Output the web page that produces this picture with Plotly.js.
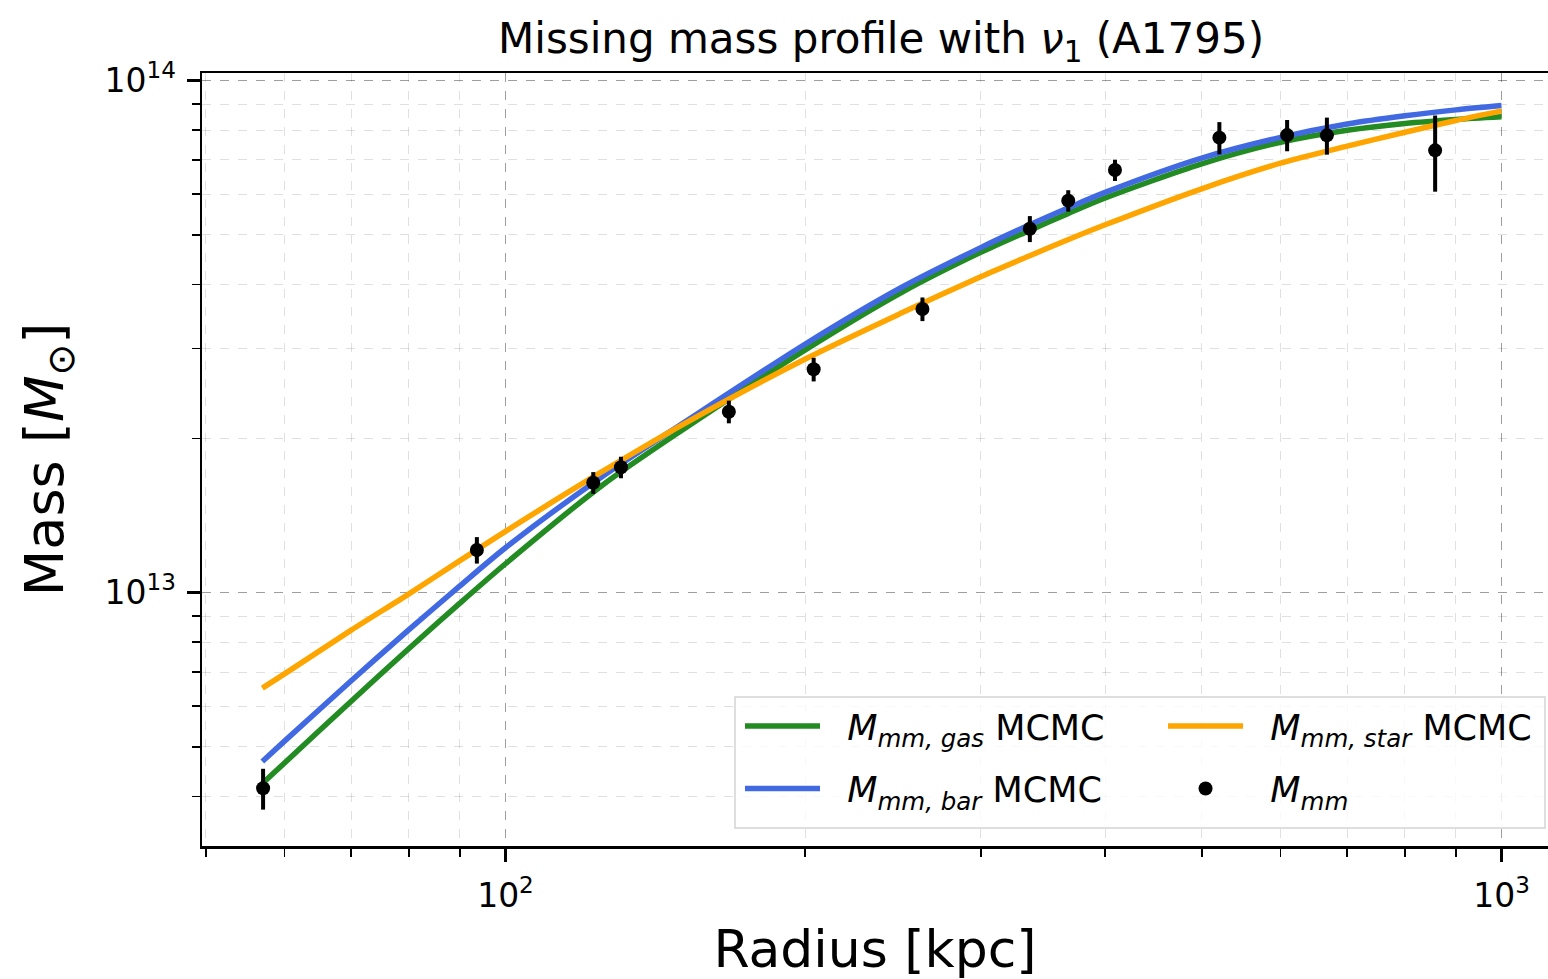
<!DOCTYPE html>
<html>
<head>
<meta charset="utf-8">
<script src="https://cdn.plot.ly/plotly-3.0.1.min.js"></script>
<style>html,body{margin:0;padding:0;overflow:hidden;background:#fff}</style>
</head>
<body>
<div id="chart" style="width:1548px;height:979px"></div>
<script>
// Model curves (MCMC fits), radius in kpc, mass in solar masses
const radius_fit = [57, 60, 70, 80, 90, 100, 125, 150, 200, 250, 300, 336, 367, 400, 500, 600, 700, 800, 900, 1000];
const M_mm_gas_mcmc = [0.424e13, 0.465e13, 0.614e13, 0.778e13, 0.954e13, 1.139e13, 1.62e13, 2.07e13, 2.98e13, 3.86e13, 4.62e13, 5.10e13, 5.50e13, 5.90e13, 6.88e13, 7.58e13, 8.00e13, 8.25e13, 8.40e13, 8.50e13];
const M_mm_bar_mcmc = [0.468e13, 0.513e13, 0.673e13, 0.847e13, 1.031e13, 1.224e13, 1.685e13, 2.13e13, 3.06e13, 3.95e13, 4.72e13, 5.23e13, 5.64e13, 6.05e13, 7.06e13, 7.75e13, 8.23e13, 8.54e13, 8.77e13, 8.94e13];
const M_mm_star_mcmc = [0.651e13, 0.694e13, 0.845e13, 0.995e13, 1.155e13, 1.318e13, 1.723e13, 2.12e13, 2.86e13, 3.52e13, 4.14e13, 4.55e13, 4.89e13, 5.23e13, 6.15e13, 6.90e13, 7.45e13, 7.93e13, 8.36e13, 8.73e13];

// Observed missing mass with errors
const radius_obs = [57.1, 93.6, 122.5, 130.6, 167.6, 203.9, 262.2, 336.1, 367.3, 409.2, 520.9, 609.2, 667.9, 857.8];
const M_mm = [0.415e13, 1.212e13, 1.640e13, 1.758e13, 2.257e13, 2.731e13, 3.582e13, 5.139e13, 5.83e13, 6.69e13, 7.74e13, 7.83e13, 7.82e13, 7.31e13];
const M_mm_err = [0.038e13, 0.072e13, 0.080e13, 0.085e13, 0.115e13, 0.145e13, 0.19e13, 0.30e13, 0.28e13, 0.32e13, 0.56e13, 0.55e13, 0.65e13, 1.24e13];

// Axis ticks
const x_major = [100, 1000];
const x_major_text = ['10<sup>2</sup>', '10<sup>3</sup>'];
const x_minor = [50, 60, 70, 80, 90, 200, 300, 400, 500, 600, 700, 800, 900];
const y_major = [1e13, 1e14];
const y_major_text = ['10<sup>13</sup>', '10<sup>14</sup>'];
const y_minor = [4e12, 5e12, 6e12, 7e12, 8e12, 9e12, 2e13, 3e13, 4e13, 5e13, 6e13, 7e13, 8e13, 9e13];

const FONT = 'DejaVu Sans, Liberation Sans, sans-serif';
const LW = 5.5;
const GAP = '\u00A0\u00A0';

const traces = [
  {x: radius_fit, y: M_mm_gas_mcmc, type: 'scatter', mode: 'lines', name: GAP + '<i>M<sub>mm, gas</sub></i> MCMC',
   line: {color: '#228B22', width: LW, shape: 'spline', smoothing: 0.8}, legend: 'legend', legendgroup: 'a'},
  {x: radius_fit, y: M_mm_bar_mcmc, type: 'scatter', mode: 'lines', name: GAP + '<i>M<sub>mm, bar</sub></i> MCMC',
   line: {color: '#4169E1', width: LW, shape: 'spline', smoothing: 0.8}, legend: 'legend', legendgroup: 'b'},
  {x: radius_fit, y: M_mm_star_mcmc, type: 'scatter', mode: 'lines', name: GAP + '<i>M<sub>mm, star</sub></i> MCMC',
   line: {color: '#FFA500', width: LW, shape: 'spline', smoothing: 0.8}, legend: 'legend2', legendgroup: 'c'},
  {x: radius_obs, y: M_mm, type: 'scatter', mode: 'markers', name: GAP + '<i>M<sub>mm</sub></i>',
   marker: {color: 'black', size: 14},
   error_y: {type: 'data', array: M_mm_err, visible: true, color: 'black', thickness: 4, width: 0},
   legend: 'legend2', legendgroup: 'd'}
];

const gridMajor = 'rgba(0,0,0,0.38)';
const gridMinor = 'rgba(0,0,0,0.12)';

const layout = {
  width: 1548, height: 979,
  margin: {l: 202, r: 0, t: 73, b: 133},
  paper_bgcolor: 'white', plot_bgcolor: 'white',
  font: {family: FONT, color: 'black'},
  showlegend: true,
  title: {text: 'Missing mass profile with <i>ν</i><sub>1</sub> (A1795)', font: {size: 42, family: FONT},
          x: 0.5045, xref: 'paper', xanchor: 'center', y: 0.961, yref: 'container', yanchor: 'middle'},
  xaxis: {
    type: 'log', range: [1.6953, 3.0467],
    tickmode: 'array', tickvals: x_major, ticktext: x_major_text,
    ticks: 'outside', ticklen: 13, tickwidth: 2.5, tickcolor: 'black',
    tickfont: {size: 33, family: FONT}, ticklabelstandoff: 6,
    showline: true, linecolor: 'black', linewidth: 2.5, mirror: true,
    showgrid: true, gridcolor: gridMajor, gridwidth: 1, griddash: 'dash',
    zeroline: false,
    minor: {tickmode: 'array', tickvals: x_minor, ticks: 'outside', ticklen: 8, tickwidth: 1.8, tickcolor: 'black',
            showgrid: true, gridcolor: gridMinor, gridwidth: 1, griddash: 'dash'},
    title: {text: 'Radius [kpc]', font: {size: 52, family: FONT}, standoff: 18}
  },
  yaxis: {
    type: 'log', range: [12.5053, 14.015],
    tickmode: 'array', tickvals: y_major, ticktext: y_major_text,
    ticks: 'outside', ticklen: 13, tickwidth: 2.5, tickcolor: 'black',
    tickfont: {size: 33, family: FONT}, ticklabelstandoff: 4,
    showline: true, linecolor: 'black', linewidth: 2.5, mirror: false,
    showgrid: true, gridcolor: gridMajor, gridwidth: 1, griddash: 'dash',
    zeroline: false,
    minor: {tickmode: 'array', tickvals: y_minor, ticks: 'outside', ticklen: 8, tickwidth: 1.8, tickcolor: 'black',
            showgrid: true, gridcolor: gridMinor, gridwidth: 1, griddash: 'dash'},
    title: {text: 'Mass [<i>M</i><sub>⊙</sub>]', font: {size: 54, family: FONT}, standoff: 24}
  },
  legend: {x: 0.3997, y: 0.193, xanchor: 'left', yanchor: 'top', xref: 'paper', yref: 'paper',
           bgcolor: 'rgba(0,0,0,0)', borderwidth: 0, font: {size: 35, family: FONT},
           tracegroupgap: 14, itemwidth: 75, orientation: 'v'},
  legend2: {x: 0.714, y: 0.193, xanchor: 'left', yanchor: 'top', xref: 'paper', yref: 'paper',
           bgcolor: 'rgba(0,0,0,0)', borderwidth: 0, font: {size: 35, family: FONT},
           tracegroupgap: 14, itemwidth: 75, orientation: 'v'},
  shapes: [{type: 'rect', xref: 'paper', yref: 'paper', x0: 0.39599, x1: 0.99777, y0: 0.02329, y1: 0.19276,
            fillcolor: 'rgba(255,255,255,0.8)', line: {color: '#d4d4d4', width: 1.5}, layer: 'above'}]
};

Plotly.newPlot('chart', traces, layout, {displayModeBar: false, staticPlot: true});
</script>
</body>
</html>
